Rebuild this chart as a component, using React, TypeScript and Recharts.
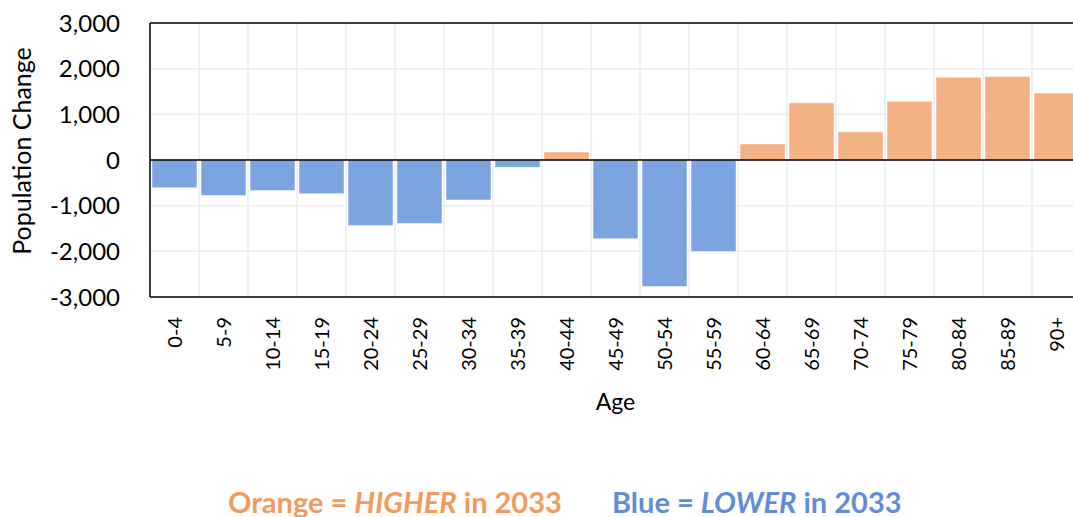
import React from "react";
import {
  BarChart,
  Bar,
  Cell,
  XAxis,
  YAxis,
  CartesianGrid,
  ReferenceLine,
} from "recharts";

const ages = [
  "0-4", "5-9", "10-14", "15-19", "20-24", "25-29", "30-34", "35-39", "40-44",
  "45-49", "50-54", "55-59", "60-64", "65-69", "70-74", "75-79", "80-84", "85-89", "90+",
];
const changes = [
  -605, -780, -670, -737, -1434, -1390, -875, -160, 175,
  -1722, -2772, -2006, 350, 1254, 620, 1284, 1810, 1830, 1466,
];
const yTicks = [-3000, -2000, -1000, 0, 1000, 2000, 3000];

const FONT = "Lato, 'Open Sans', sans-serif";
const BLUE = "#7BA4E0";
const ORANGE = "#F4B183";

const data = ages.map((age, i) => ({ age, value: changes[i] }));

function AgeTick({ x, y, payload }: any) {
  return (
    <text
      x={x}
      y={y}
      dy="0.35em"
      transform={`rotate(-90, ${x}, ${y})`}
      textAnchor="end"
      fontSize={20}
      fontFamily={FONT}
      fill="#000"
    >
      {payload.value}
    </text>
  );
}

function YTitle(props: any) {
  const vb = props.viewBox || { x: 0, y: 23, width: 150, height: 274 };
  const cx = vb.x + 22;
  const cy = vb.y + vb.height / 2 - 9;
  return (
    <text
      x={cx}
      y={cy}
      dy="0.35em"
      transform={`rotate(-90, ${cx}, ${cy})`}
      textAnchor="middle"
      fontSize={25}
      fontFamily={FONT}
      fill="#000"
    >
      Population Change
    </text>
  );
}

export default function App() {
  const n = data.length;
  return (
    <div
      style={{
        position: "absolute",
        left: 0,
        top: 0,
        width: 1073,
        height: 517,
        overflow: "hidden",
        background: "#fff",
      }}
    >
      <BarChart
        width={1090}
        height={517}
        data={data}
        margin={{ top: 23, right: 9, bottom: 95, left: 0 }}
        barCategoryGap={2}
      >
        <CartesianGrid
          stroke="#EDEDED"
          strokeWidth={1.5}
          verticalCoordinatesGenerator={({ offset }: any) =>
            Array.from({ length: n + 1 }, (_, i) => offset.left + (i * offset.width) / n)
          }
        />
        <XAxis
          dataKey="age"
          height={125}
          interval={0}
          tickLine={false}
          tickSize={0}
          tickMargin={20}
          tick={<AgeTick />}
          axisLine={{ stroke: "#000", strokeWidth: 1.5 }}
          label={{
            value: "Age",
            position: "insideBottom",
            offset: 12,
            fontSize: 23,
            fontFamily: FONT,
            fill: "#000",
          }}
        />
        <YAxis
          width={150}
          domain={[-3000, 3000]}
          ticks={yTicks}
          interval={0}
          tickLine={false}
          tickSize={0}
          tickMargin={30}
          tickFormatter={(v: number) => v.toLocaleString("en-US")}
          tick={{ fontSize: 24, fontFamily: FONT, fill: "#000" }}
          axisLine={{ stroke: "#000", strokeWidth: 1.5 }}
          label={YTitle}
        />
        <Bar dataKey="value" isAnimationActive={false} stroke="#ffffff" strokeOpacity={0.5} strokeWidth={1}>
          {data.map((d) => (
            <Cell key={d.age} fill={d.value >= 0 ? ORANGE : BLUE} />
          ))}
        </Bar>
        <ReferenceLine y={0} stroke="#000" strokeWidth={1.5} />
        <ReferenceLine y={3000} stroke="#000" strokeWidth={1.5} />
      </BarChart>
      <svg
        width={1073}
        height={517}
        style={{ position: "absolute", left: 0, top: 0, pointerEvents: "none" }}
      >
        <text x={228} y={513} fontFamily={FONT} fontWeight="bold" fontSize={29} fill="#F29A5E">
          Orange = <tspan fontStyle="italic">HIGHER</tspan> in 2033
        </text>
        <text x={612} y={513} fontFamily={FONT} fontWeight="bold" fontSize={29} fill="#5F8DD8">
          Blue = <tspan fontStyle="italic">LOWER</tspan> in 2033
        </text>
      </svg>
    </div>
  );
}
